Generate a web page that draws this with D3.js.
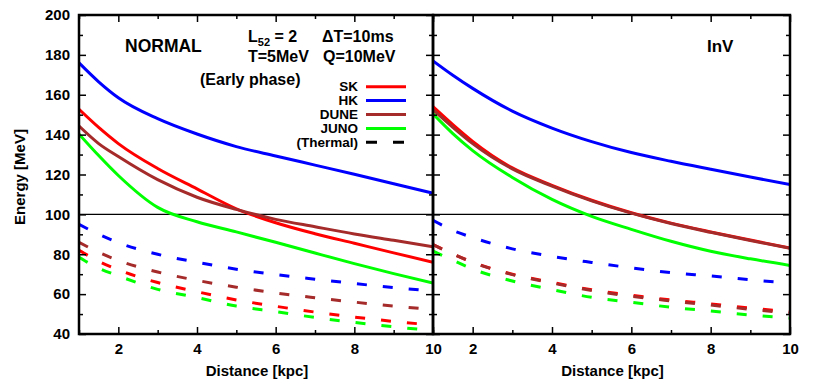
<!DOCTYPE html>
<html>
<head>
<meta charset="utf-8">
<script src="https://cdn.jsdelivr.net/npm/d3@7"></script>
<style>
  body { margin: 0; background: #fff; }
  svg { font-family: "Liberation Sans", Arial, sans-serif; font-weight: bold; }
</style>
</head>
<body>
<svg id="chart" width="830" height="383"></svg>
<script>
// distance [kpc]
const distance = [1, 1.5, 2, 3, 4, 5, 6, 7, 8, 9, 10];

// NORMAL hierarchy, early phase
const skNormal = [152.7, 143.6, 135.5, 123, 112.8, 102.8, 95.8, 90.3, 85.5, 80.7, 76];
const hkNormal = [176, 166.5, 158.5, 148, 140.3, 134, 129.3, 124.7, 120.1, 115.4, 110.6];
const duneNormal = [144.3, 135.5, 129, 117.4, 108.6, 102.5, 97.5, 93.8, 90.2, 87, 83.8];
const junoNormal = [140.3, 129.5, 119.5, 103.5, 96.3, 91.2, 86, 80.6, 75.3, 70.3, 65.5];
const skThNormal = [82, 76.5, 72.2, 65.8, 61.2, 57.1, 53.9, 51, 48.5, 46.3, 44.5];
const hkThNormal = [95, 90, 85.8, 80, 76, 72.5, 69.8, 67.5, 65.3, 63.3, 61.5];
const duneThNormal = [86, 81, 76.9, 71.1, 66.9, 63.5, 60.6, 58.2, 56, 54, 52.3];
const junoThNormal = [78.5, 73, 69.2, 62.4, 58.3, 54, 51.2, 48.3, 45.8, 43.6, 41.8];

// InV hierarchy
const skInv = [154, 145, 136.6, 123.3, 114.6, 107.1, 100.8, 95.6, 91.2, 87.1, 83.1];
const hkInv = [177, 169.8, 163.2, 151.8, 143.3, 136.5, 131, 126.6, 122.6, 118.7, 115];
const duneInv = [152.5, 143.7, 135.5, 122.8, 114.2, 106.8, 100.6, 95.4, 91, 86.9, 83];
const junoInv = [150.4, 140.5, 132, 118.5, 107.5, 99, 92.5, 86.5, 81.5, 77.7, 74.4];
const skThInv = [84.8, 80.2, 76, 70, 65.9, 62.2, 59.4, 57.1, 55.1, 53, 51.2];
const hkThInv = [97, 92, 88.4, 82.7, 78.9, 75.9, 73.2, 70.8, 69.1, 67.2, 65.6];
const duneThInv = [84.8, 80.1, 75.9, 69.8, 65.6, 61.8, 58.9, 56.6, 54.5, 52.4, 50.5];
const junoThInv = [81.6, 77, 72.6, 66.6, 62.3, 58.4, 55.9, 53.4, 51.5, 49.5, 48];

const yMajor = [40, 60, 80, 100, 120, 140, 160, 180, 200];
const yMinor = [50, 70, 90, 110, 130, 150, 170, 190];
const xMajor = [2, 4, 6, 8, 10];
const xMinor = [1, 3, 5, 7, 9];

const detectors = ["SK", "HK", "DUNE", "JUNO"];
const colors = { SK: "#ff0000", HK: "#0000ff", DUNE: "#a52a2a", JUNO: "#00ff00" };

const svg = d3.select("#chart");
const plotTop = 15, plotBottom = 334;

const y = d3.scaleLinear().domain([40, 200]).range([plotBottom, plotTop]);

const panels = [
  { name: "NORMAL", x0: 79, x1: 433,
    solid: { SK: skNormal, HK: hkNormal, DUNE: duneNormal, JUNO: junoNormal },
    thermal: { SK: skThNormal, HK: hkThNormal, DUNE: duneThNormal, JUNO: junoThNormal } },
  { name: "InV", x0: 433, x1: 790,
    solid: { SK: skInv, HK: hkInv, DUNE: duneInv, JUNO: junoInv },
    thermal: { SK: skThInv, HK: hkThInv, DUNE: duneThInv, JUNO: junoThInv } }
];

panels.forEach((p, pi) => {
  const x = d3.scaleLinear().domain([1, 10]).range([p.x0, p.x1]);
  const g = svg.append("g");

  const clipId = "clip" + pi;
  svg.append("clipPath").attr("id", clipId)
    .append("rect").attr("x", p.x0).attr("y", plotTop)
    .attr("width", p.x1 - p.x0).attr("height", plotBottom - plotTop);

  // 100 MeV reference line
  g.append("line")
    .attr("x1", p.x0).attr("x2", p.x1)
    .attr("y1", y(100)).attr("y2", y(100))
    .attr("stroke", "#000").attr("stroke-width", 1.2);

  const line = d3.line()
    .x((d, i) => x(distance[i]))
    .y(d => y(d))
    .curve(d3.curveMonotoneX);

  const plot = g.append("g").attr("clip-path", `url(#${clipId})`);

  detectors.forEach(k => {
    plot.append("path")
      .attr("d", line(p.solid[k]))
      .attr("fill", "none")
      .attr("stroke", colors[k])
      .attr("stroke-width", 3);
  });
  detectors.forEach(k => {
    plot.append("path")
      .attr("d", line(p.thermal[k]))
      .attr("fill", "none")
      .attr("stroke", colors[k])
      .attr("stroke-width", 3)
      .attr("stroke-dasharray", "10,16");
  });

  // ticks, all pointing inward
  const addAxis = (axis, tx, ty, vals, len, labels) => {
    const a = g.append("g")
      .attr("transform", `translate(${tx},${ty})`)
      .call(axis.tickValues(vals).tickSize(-len).tickPadding(9)
        .tickFormat(labels ? d3.format("d") : ""));
    a.select(".domain").remove();
    a.selectAll("line").attr("stroke", "#000").attr("stroke-width", 1.5);
    a.selectAll("text").attr("font-size", 15).attr("fill", "#000")
      .attr("font-family", "Liberation Sans, Arial, sans-serif");
    return a;
  };

  addAxis(d3.axisBottom(x), 0, plotBottom, xMajor, 7, true);
  addAxis(d3.axisBottom(x), 0, plotBottom, xMinor, 4, false);
  addAxis(d3.axisTop(x), 0, plotTop, xMajor, 7, false);
  addAxis(d3.axisTop(x), 0, plotTop, xMinor, 4, false);
  addAxis(d3.axisLeft(y), p.x0, 0, yMajor, 7, pi === 0);
  addAxis(d3.axisLeft(y), p.x0, 0, yMinor, 4, false);
  addAxis(d3.axisRight(y), p.x1, 0, yMajor, 7, false);
  addAxis(d3.axisRight(y), p.x1, 0, yMinor, 4, false);

  // frame
  g.append("rect")
    .attr("x", p.x0).attr("y", plotTop)
    .attr("width", p.x1 - p.x0).attr("height", plotBottom - plotTop)
    .attr("fill", "none").attr("stroke", "#000").attr("stroke-width", 2.5);

  g.append("text")
    .attr("x", (p.x0 + p.x1) / 2 + 1).attr("y", 376)
    .attr("text-anchor", "middle").attr("font-size", 15)
    .text("Distance [kpc]");
});

svg.append("text")
  .attr("transform", "translate(25,177) rotate(-90)")
  .attr("text-anchor", "middle").attr("font-size", 15)
  .text("Energy [MeV]");

// annotations
svg.append("text").attr("x", 125).attr("y", 52).attr("font-size", 17.5).text("NORMAL");
svg.append("text").attr("x", 707).attr("y", 52).attr("font-size", 17).text("InV");

const l52 = svg.append("text").attr("x", 248).attr("y", 42).attr("font-size", 16);
l52.append("tspan").text("L");
l52.append("tspan").attr("font-size", 11).attr("dy", 4).text("52");
l52.append("tspan").attr("dy", -4).text(" = 2");
svg.append("text").attr("x", 322).attr("y", 42).attr("font-size", 16).text("\u0394T=10ms");
svg.append("text").attr("x", 248).attr("y", 62).attr("font-size", 16).text("T=5MeV");
svg.append("text").attr("x", 323).attr("y", 62).attr("font-size", 16).text("Q=10MeV");
svg.append("text").attr("x", 200).attr("y", 85).attr("font-size", 16).text("(Early phase)");

// legend
const legendRows = detectors.concat(["(Thermal)"]);
const legendY = d3.scalePoint().domain(legendRows).range([86.7, 142.3]);
const legend = svg.append("g");
legendRows.forEach(k => {
  legend.append("text")
    .attr("x", 358).attr("y", legendY(k)).attr("dy", "0.35em")
    .attr("text-anchor", "end").attr("font-size", 13.5)
    .text(k);
  legend.append("line")
    .attr("x1", 366).attr("x2", 406)
    .attr("y1", legendY(k)).attr("y2", legendY(k))
    .attr("stroke", colors[k] || "#000")
    .attr("stroke-width", 3)
    .attr("stroke-dasharray", colors[k] ? null : "11,16");
});
</script>
</body>
</html>
